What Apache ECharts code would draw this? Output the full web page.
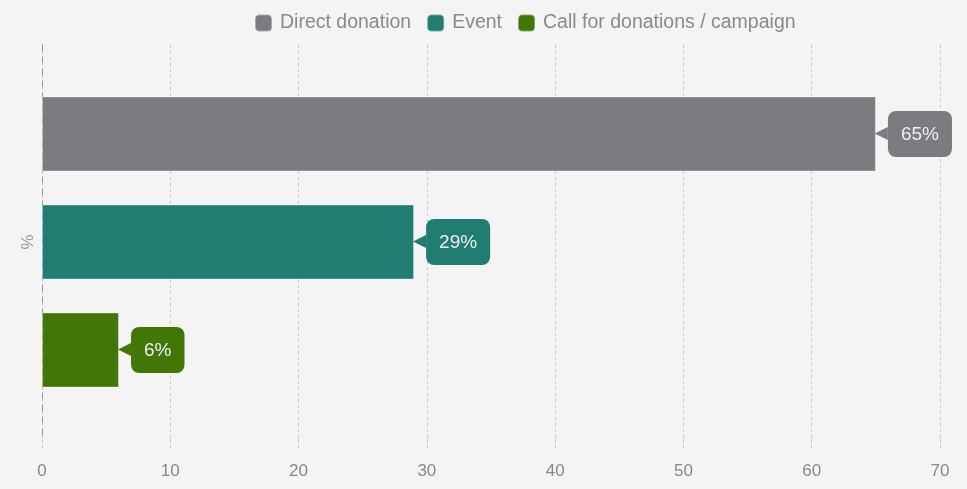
<!DOCTYPE html>
<html>
<head>
<meta charset="utf-8">
<script src="https://cdn.jsdelivr.net/npm/echarts@6/dist/echarts.min.js"></script>
<style>
  html, body { margin: 0; padding: 0; background: #f4f4f4; }
  #myChart { width: 967px; height: 489px; }
</style>
</head>
<body>
<div id="myChart"></div>
<script>
var categories = ['%'];
var seriesNames = ['Direct donation', 'Event', 'Call for donations / campaign'];
var seriesValues = [[65], [29], [6]];
var seriesColors = ['#7b7c80', '#217d72', '#427607'];
var xTicks = [0, 70, 10]; // min, max, interval

var myChart = echarts.init(document.getElementById('myChart'));

var series = [];
for (var i = 0; i < seriesNames.length; i++) {
    series.push({
        name: seriesNames[i],
        type: 'bar',
        data: seriesValues[i],
        barWidth: 75,
        barGap: '44%',
        itemStyle: {
            color: seriesColors[i],
            borderColor: 'rgba(255,255,255,0.35)',
            borderWidth: 1
        },
        label: {
            show: true,
            position: 'right',
            distance: -1,
            formatter: '{a|◀}{b|{c}%}',
            rich: {
                a: {
                    color: seriesColors[i],
                    fontSize: 17,
                    fontFamily: 'DejaVu Sans',
                    verticalAlign: 'middle'
                },
                b: {
                    color: '#eeeeee',
                    backgroundColor: seriesColors[i],
                    borderRadius: 8,
                    padding: [14, 13, 13, 13],
                    fontSize: 19,
                    lineHeight: 22,
                    fontFamily: 'Liberation Sans',
                    verticalAlign: 'middle'
                }
            }
        }
    });
}

var option = {
    backgroundColor: '#f4f4f4',
    textStyle: { fontFamily: 'Liberation Sans' },
    legend: {
        top: 8,
        left: 249,
        itemWidth: 17,
        itemHeight: 17,
        itemGap: 15,
        textStyle: { color: '#8a8a8a', fontSize: 19.5, padding: [0, 0, 0, 3] },
        data: seriesNames
    },
    grid: {
        left: 42,
        right: 27,
        top: 45,
        bottom: 50,
        containLabel: false
    },
    xAxis: {
        type: 'value',
        min: xTicks[0],
        max: xTicks[1],
        interval: xTicks[2],
        axisLine: { show: false },
        axisTick: {
            show: true,
            length: 9,
            lineStyle: { color: '#c8c8c8', type: 'dashed' }
        },
        axisLabel: { color: '#888', fontSize: 17, margin: 24 },
        splitLine: {
            show: true,
            lineStyle: { color: '#c8c8c8', type: [3, 3] }
        }
    },
    yAxis: {
        type: 'category',
        inverse: true,
        data: categories,
        axisLine: {
            show: true,
            lineStyle: { color: '#999', type: [6, 6] }
        },
        axisTick: { show: false },
        axisLabel: { color: '#999', fontSize: 17, rotate: 90, margin: 5 }
    },
    series: series
};
myChart.setOption(option);
</script>
</body>
</html>
